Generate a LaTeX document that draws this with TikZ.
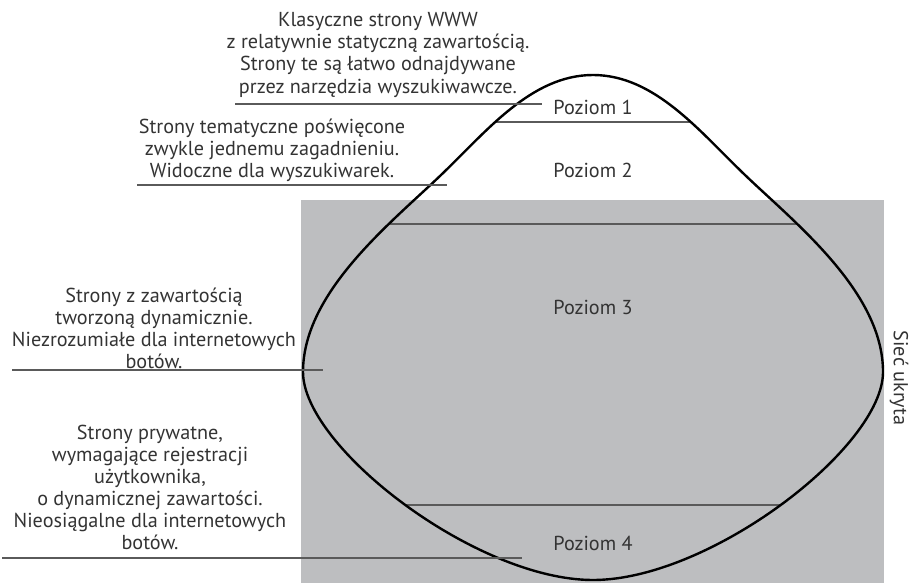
\documentclass[tikz,border=0pt]{standalone}
\usepackage{fontspec}
\setmainfont{PT Sans}
\definecolor{txtgray}{HTML}{333333}
\definecolor{shadegray}{HTML}{BDBEC0}
\definecolor{rulegray}{HTML}{5A5A5A}
\def\bergpath{(593,75) .. controls (655,75) and (700,132) .. (745,175)
  .. controls (795,223) and (883,292) .. (883,372)
  .. controls (883,447) and (710,580) .. (593,580)
  .. controls (476,580) and (303,447) .. (303,372)
  .. controls (303,292) and (391,223) .. (441,175)
  .. controls (486,132) and (531,75) .. (593,75) -- cycle}
\begin{document}
\begin{tikzpicture}[x=0.5pt,y=-0.5pt]
\tikzstyle{every node}+=[inner sep=0pt, text=txtgray, font=\fontsize{10.1}{11}\selectfont]
\tikzstyle{note}=[align=center]
\tikzstyle{leader}=[rulegray, line width=1pt]
\useasboundingbox (0,0) rectangle (913,583);
% hidden web area
\fill [shadegray] (301,200) rectangle (884,583);
% level borders, cut by the outline
\coordinate (b1l) at (290,122);
\coordinate (b1r) at (900,122);
\coordinate (b2l) at (290,224);
\coordinate (b2r) at (900,224);
\coordinate (b3l) at (290,505);
\coordinate (b3r) at (900,505);
\begin{scope}
\clip \bergpath;
\draw [leader] (b1l) -- (b1r);
\draw [leader] (b2l) -- (b2r);
\draw [leader] (b3l) -- (b3r);
\end{scope}
% iceberg outline
\draw [black, line width=1.2pt] \bergpath;
\node (p1) at (593,107) {Poziom 1};
\node (p2) at (593,170) {Poziom 2};
\node (p3) at (593,307) {Poziom 3};
\node (p4) at (593,543) {Poziom 4};
\node [rotate=-90] (hid) at (899,378) {Sieć ukryta};
% descriptions
\node [note] (d1) at (378,55) {Klasyczne strony WWW\\z relatywnie statyczną zawartością.\\Strony te są łatwo odnajdywane\\przez narzędzia wyszukiwawcze.};
\node [note] (d2) at (272,150) {Strony tematyczne poświęcone\\zwykle jednemu zagadnieniu.\\Widoczne dla wyszukiwarek.};
\node [note] (d3) at (154,328) {Strony z zawartością\\tworzoną dynamicznie.\\Niezrozumiałe dla internetowych\\botów.};
\node [note] (d4) at (150,487) {Strony prywatne,\\wymagające rejestracji\\użytkownika,\\o dynamicznej zawartości.\\Nieosiągalne dla internetowych\\botów.};
% underlines
\coordinate (u1a) at (235,104);
\coordinate (u1b) at (542,104);
\coordinate (u2a) at (137,185);
\coordinate (u2b) at (447,185);
\coordinate (u3a) at (12,370);
\coordinate (u3b) at (323,370);
\coordinate (u4a) at (2,558);
\coordinate (u4b) at (522,558);
\draw [leader] (u1a) -- (u1b);
\draw [leader] (u2a) -- (u2b);
\draw [leader] (u3a) -- (u3b);
\draw [leader] (u4a) -- (u4b);
\end{tikzpicture}
\end{document}
